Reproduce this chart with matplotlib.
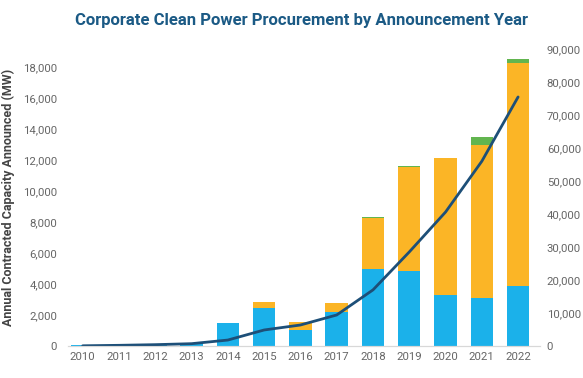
import matplotlib
matplotlib.use('Agg')
import matplotlib.pyplot as plt
from matplotlib.ticker import FuncFormatter

# Data (MW)
years = ['2010', '2011', '2012', '2013', '2014', '2015', '2016',
         '2017', '2018', '2019', '2020', '2021', '2022']
blue_vals = [60, 50, 100, 200, 1480, 2450, 1050, 2200, 4970, 4840, 3290, 3100, 3870]
orange_vals = [0, 0, 0, 0, 0, 390, 480, 580, 3290, 6730, 8840, 9870, 14390]
green_vals = [0, 0, 0, 0, 0, 0, 0, 0, 70, 60, 0, 510, 260]
cumulative = [60, 200, 400, 700, 1800, 4850, 6360, 9400, 17000, 28500, 40600, 56000, 75500]

left_ticks = [0, 2000, 4000, 6000, 8000, 10000, 12000, 14000, 16000, 18000]
right_ticks = [0, 10000, 20000, 30000, 40000, 50000, 60000, 70000, 80000, 90000]

plt.rcParams['font.family'] = ['Roboto', 'DejaVu Sans']

fig = plt.figure(figsize=(5.83, 3.78), dpi=100)
ax = fig.add_axes([0.117, 0.0847, 0.809, 0.7853])
ax2 = ax.twinx()

x = list(range(len(years)))
width = 0.62
bottom2 = [b + o for b, o in zip(blue_vals, orange_vals)]
ax.bar(x, blue_vals, width, color='#1bb1ea')
ax.bar(x, orange_vals, width, bottom=blue_vals, color='#fbb526')
ax.bar(x, green_vals, width, bottom=bottom2, color='#62b54f')

ax2.plot(x, cumulative, color='#1d4f78', linewidth=2.0, solid_capstyle='round')

ax.set_xlim(-0.4, 12.6)
ax.set_ylim(0, 19160)
ax2.set_ylim(0, 90000)
ax.set_yticks(left_ticks)
ax2.set_yticks(right_ticks)
fmt = FuncFormatter(lambda v, p: f'{int(v):,}')
ax.yaxis.set_major_formatter(fmt)
ax2.yaxis.set_major_formatter(fmt)
ax.set_xticks(x)
ax.set_xticklabels(years)

for a in (ax, ax2):
    for s in ['top', 'left', 'right']:
        a.spines[s].set_visible(False)
    a.spines['bottom'].set_color('#d8d8d8')
    a.tick_params(length=0, labelsize=8.2, labelcolor='#666666')
ax.tick_params(axis='y', pad=8)
ax2.tick_params(axis='y', pad=5)
ax.tick_params(axis='x', pad=4)

ax.set_ylabel('Annual Contracted Capacity Announced (MW)', fontsize=9,
              fontweight='bold', color='#444444', labelpad=6)

fig.text(0.518, 0.945, 'Corporate Clean Power Procurement by Announcement Year',
         ha='center', va='center', fontsize=12, fontweight='bold', color='#1b5a85')

plt.savefig('out.png', dpi=100)
plt.close()
